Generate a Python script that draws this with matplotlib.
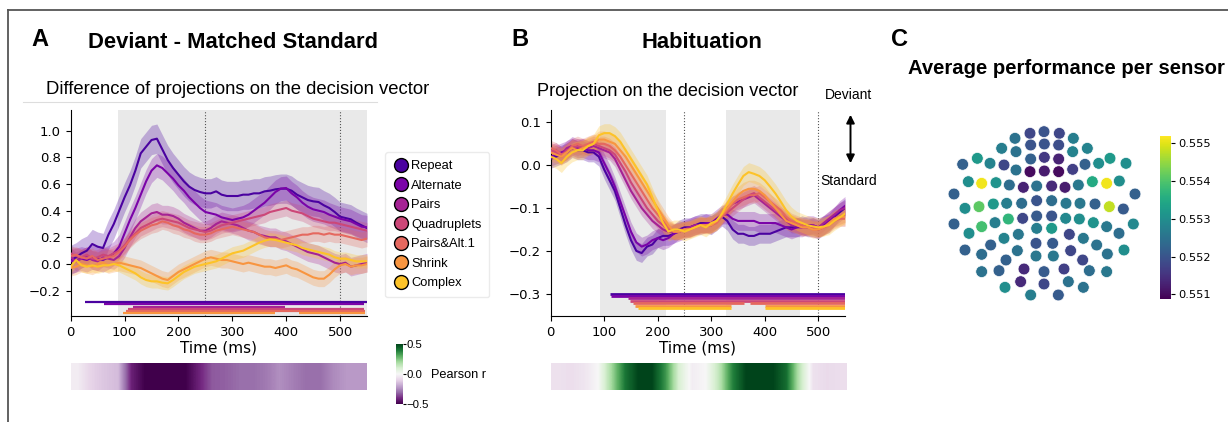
import numpy as np
import matplotlib
matplotlib.use("Agg")
import matplotlib.pyplot as plt
from matplotlib.lines import Line2D
from matplotlib import cm, colors as mcolors

# ---------------- data ----------------
conditions = ["Repeat", "Alternate", "Pairs", "Quadruplets", "Pairs&Alt.1", "Shrink", "Complex"]
cond_colors = ["#4a02a0", "#7a03a8", "#a52294", "#cc4778", "#e5685f", "#f89540", "#fdc328"]

time_ms = np.arange(0, 551, 10)

# Panel A: difference of projections (deviant - matched standard)
A_repeat = [0.03, 0.05, 0.08, 0.10, 0.15, 0.13, 0.12, 0.22, 0.30, 0.40, 0.50, 0.59, 0.70, 0.83, 0.88, 0.93,
            0.94, 0.86, 0.78, 0.72, 0.67, 0.62, 0.58, 0.555, 0.54, 0.53, 0.53, 0.545, 0.52, 0.51, 0.51, 0.51,
            0.52, 0.52, 0.53, 0.53, 0.545, 0.55, 0.56, 0.565, 0.565, 0.55, 0.52, 0.50, 0.48, 0.47, 0.465, 0.44,
            0.42, 0.39, 0.355, 0.345, 0.335, 0.31, 0.29, 0.27]
A_alternate = [0.02, 0.03, 0.04, 0.03, 0.05, 0.04, 0.03, 0.05, 0.08, 0.13, 0.23, 0.33, 0.42, 0.52, 0.62, 0.70,
               0.74, 0.72, 0.68, 0.64, 0.59, 0.55, 0.50, 0.46, 0.42, 0.39, 0.38, 0.37, 0.35, 0.34, 0.33, 0.34,
               0.35, 0.37, 0.40, 0.43, 0.46, 0.50, 0.54, 0.565, 0.57, 0.53, 0.50, 0.46, 0.43, 0.41, 0.40, 0.39,
               0.37, 0.355, 0.34, 0.33, 0.32, 0.30, 0.28, 0.275]
A_pairs = [0.05, 0.02, 0.04, 0.06, 0.03, 0.02, 0.05, 0.04, 0.03, 0.06, 0.12, 0.20, 0.27, 0.32, 0.35, 0.38,
           0.39, 0.37, 0.37, 0.36, 0.34, 0.31, 0.29, 0.27, 0.25, 0.25, 0.27, 0.30, 0.32, 0.31, 0.30, 0.29,
           0.27, 0.25, 0.24, 0.22, 0.21, 0.20, 0.20, 0.18, 0.17, 0.15, 0.13, 0.11, 0.09, 0.08, 0.07, 0.05,
           0.03, 0.01, 0.00, 0.01, -0.02, -0.01, 0.00, 0.01]
A_quadruplets = [0.08, 0.06, 0.05, 0.07, 0.04, 0.05, 0.07, 0.06, 0.08, 0.10, 0.14, 0.19, 0.23, 0.27, 0.29, 0.31,
                 0.33, 0.34, 0.33, 0.32, 0.31, 0.29, 0.27, 0.26, 0.25, 0.24, 0.25, 0.27, 0.29, 0.30, 0.31, 0.32,
                 0.33, 0.34, 0.35, 0.36, 0.37, 0.39, 0.40, 0.41, 0.42, 0.40, 0.39, 0.38, 0.36, 0.34, 0.33, 0.32,
                 0.31, 0.31, 0.30, 0.29, 0.28, 0.27, 0.26, 0.25]
A_pairs_alt = [0.06, 0.07, 0.05, 0.04, 0.06, 0.03, 0.04, 0.05, 0.06, 0.09, 0.13, 0.18, 0.22, 0.25, 0.27, 0.29,
               0.30, 0.32, 0.31, 0.29, 0.28, 0.26, 0.25, 0.23, 0.22, 0.22, 0.23, 0.25, 0.26, 0.27, 0.28, 0.27,
               0.26, 0.25, 0.24, 0.22, 0.20, 0.19, 0.19, 0.18, 0.19, 0.20, 0.21, 0.22, 0.22, 0.23, 0.23, 0.22,
               0.23, 0.22, 0.22, 0.21, 0.20, 0.19, 0.18, 0.19]
A_shrink = [-0.03, -0.02, 0.00, -0.01, -0.02, 0.00, 0.01, -0.01, 0.00, 0.01, 0.00, -0.01, -0.02, -0.03, -0.05, -0.07,
            -0.09, -0.11, -0.12, -0.09, -0.06, -0.04, -0.02, 0.00, 0.02, 0.04, 0.05, 0.04, 0.03, 0.03, 0.02, 0.01,
            0.00, 0.01, 0.00, -0.01, -0.02, -0.02, -0.03, -0.02, -0.01, -0.03, -0.04, -0.06, -0.08, -0.10, -0.11, -0.11,
            -0.08, -0.04, -0.01, 0.00, -0.02, -0.01, -0.01, 0.00]
A_complex = [-0.02, 0.03, -0.01, -0.02, -0.01, -0.02, -0.01, -0.01, 0.00, -0.01, -0.03, -0.05, -0.07, -0.10, -0.12, -0.13,
             -0.13, -0.14, -0.145, -0.12, -0.09, -0.06, -0.04, -0.02, -0.01, 0.00, 0.01, 0.02, 0.04, 0.06, 0.08, 0.09,
             0.10, 0.12, 0.14, 0.16, 0.175, 0.185, 0.18, 0.17, 0.16, 0.15, 0.14, 0.12, 0.11, 0.10, 0.09, 0.08,
             0.07, 0.05, 0.04, 0.04, 0.03, 0.02, 0.02, 0.02]
A_sem = [0.11, 0.09, 0.07, 0.06, 0.06, 0.06, 0.05]

# Panel B: projection on the decision vector (habituation)
B_repeat = [0.015, 0.02, 0.025, 0.03, 0.04, 0.035, 0.035, 0.03, 0.03, 0.02, -0.01, -0.035, -0.06, -0.10, -0.14, -0.175,
            -0.20, -0.205, -0.19, -0.185, -0.17, -0.165, -0.165, -0.16, -0.15, -0.145, -0.145, -0.14, -0.135, -0.135, -0.14, -0.13,
            -0.12, -0.13, -0.15, -0.16, -0.16, -0.165, -0.165, -0.16, -0.16, -0.16, -0.155, -0.15, -0.145, -0.145, -0.145, -0.14,
            -0.145, -0.145, -0.15, -0.14, -0.135, -0.12, -0.11, -0.10]
B_alternate = [0.02, 0.025, 0.03, 0.035, 0.045, 0.04, 0.04, 0.035, 0.035, 0.03, 0.005, -0.02, -0.05, -0.085, -0.12, -0.155,
               -0.18, -0.19, -0.185, -0.175, -0.17, -0.175, -0.17, -0.16, -0.155, -0.15, -0.145, -0.14, -0.14, -0.135, -0.135, -0.125,
               -0.115, -0.115, -0.125, -0.13, -0.13, -0.13, -0.13, -0.135, -0.135, -0.135, -0.135, -0.14, -0.145, -0.15, -0.145, -0.145,
               -0.14, -0.14, -0.145, -0.14, -0.13, -0.12, -0.105, -0.095]
B_pairs = [0.03, 0.035, 0.025, 0.04, 0.045, 0.04, 0.045, 0.04, 0.045, 0.04, 0.035, 0.03, 0.015, -0.01, -0.035, -0.06,
           -0.08, -0.10, -0.115, -0.13, -0.14, -0.15, -0.155, -0.155, -0.15, -0.15, -0.145, -0.14, -0.14, -0.14, -0.135, -0.13,
           -0.115, -0.10, -0.09, -0.085, -0.08, -0.075, -0.07, -0.08, -0.09, -0.10, -0.11, -0.12, -0.13, -0.14, -0.14, -0.145,
           -0.145, -0.14, -0.145, -0.135, -0.125, -0.115, -0.105, -0.10]
B_quadruplets = [0.035, 0.03, 0.02, 0.035, 0.04, 0.045, 0.04, 0.045, 0.05, 0.045, 0.04, 0.035, 0.025, 0.005, -0.015, -0.04,
                 -0.06, -0.08, -0.10, -0.115, -0.13, -0.14, -0.15, -0.155, -0.155, -0.15, -0.15, -0.145, -0.14, -0.14, -0.14, -0.13,
                 -0.12, -0.11, -0.10, -0.09, -0.08, -0.07, -0.065, -0.075, -0.085, -0.095, -0.105, -0.115, -0.125, -0.135, -0.14, -0.145,
                 -0.145, -0.145, -0.15, -0.145, -0.135, -0.125, -0.12, -0.115]
B_pairs_alt = [0.04, 0.035, 0.025, 0.03, 0.045, 0.05, 0.045, 0.05, 0.055, 0.05, 0.05, 0.045, 0.035, 0.02, 0.00, -0.02,
               -0.04, -0.06, -0.08, -0.10, -0.115, -0.13, -0.145, -0.155, -0.155, -0.15, -0.15, -0.145, -0.14, -0.14, -0.14, -0.135,
               -0.12, -0.105, -0.09, -0.08, -0.075, -0.07, -0.07, -0.065, -0.075, -0.085, -0.095, -0.105, -0.12, -0.13, -0.135, -0.14,
               -0.145, -0.15, -0.15, -0.145, -0.14, -0.13, -0.125, -0.125]
B_shrink = [0.03, 0.025, 0.02, 0.03, 0.04, 0.035, 0.04, 0.045, 0.05, 0.06, 0.06, 0.055, 0.05, 0.035, 0.02, 0.00,
            -0.02, -0.04, -0.06, -0.08, -0.10, -0.12, -0.14, -0.155, -0.155, -0.15, -0.15, -0.145, -0.14, -0.14, -0.14, -0.13,
            -0.115, -0.10, -0.085, -0.07, -0.06, -0.055, -0.055, -0.06, -0.07, -0.085, -0.10, -0.115, -0.13, -0.135, -0.14, -0.145,
            -0.145, -0.15, -0.15, -0.145, -0.135, -0.125, -0.12, -0.12]
B_complex = [0.02, 0.015, 0.005, 0.02, 0.03, 0.035, 0.035, 0.045, 0.05, 0.07, 0.075, 0.075, 0.068, 0.055, 0.035, 0.015,
             -0.005, -0.025, -0.045, -0.075, -0.105, -0.135, -0.155, -0.15, -0.15, -0.155, -0.15, -0.145, -0.14, -0.145, -0.135, -0.13,
             -0.113, -0.09, -0.066, -0.045, -0.025, -0.016, -0.02, -0.025, -0.035, -0.05, -0.066, -0.085, -0.105, -0.12, -0.13, -0.135,
             -0.14, -0.143, -0.145, -0.143, -0.14, -0.13, -0.122, -0.113]
B_sem = [0.022, 0.022, 0.018, 0.018, 0.018, 0.02, 0.022]

# significant clusters (ms)
A_clusters = [[(26, 550)], [(62, 545)], [(115, 398)], [(107, 545)], [(102, 547)], [(98, 379), (423, 547)]]
B_clusters = [[(110, 550)], [(112, 550)], [(145, 550)], [(149, 550)], [(153, 362), (372, 550)],
              [(157, 337), (401, 550)], [(163, 337), (401, 550)]]

A_windows = [(88, 550)]
B_windows = [(92, 215), (328, 465)]
event_lines = [250, 500]

# Pearson r over time (25 ms bins, 0-550 ms)
A_pearson = [-0.03, -0.10, -0.13, -0.15, -0.42, -0.50, -0.50, -0.50, -0.50, -0.42, -0.33,
             -0.32, -0.30, -0.30, -0.28, -0.24, -0.27, -0.30, -0.30, -0.25, -0.22, -0.22]
B_pearson = [-0.06, -0.07, -0.05, 0.00, 0.20, 0.40, 0.50, 0.50, 0.35, 0.10, -0.03,
             0.00, 0.15, 0.38, 0.50, 0.50, 0.50, 0.42, 0.15, -0.06, -0.08, -0.07]

# Panel C: sensor layout (2D projected positions) and performance
sensor_x = [390, 432, 478, 345, 520, 392, 433, 476, 305, 562, 348, 518, 232, 392, 433, 476, 630,
            188, 270, 312, 555, 596, 678, 348, 390, 433, 476, 518,
            205, 245, 288, 328, 370, 410, 455, 495, 535, 577, 620, 658, 162, 705,
            410, 455, 365, 320, 280, 237, 195, 498, 540, 585, 628, 670,
            162, 207, 245, 285, 325, 368, 410, 455, 497, 538, 580, 620, 700, 657,
            410, 455, 355, 508, 312, 550, 408, 458, 272, 590, 195, 352, 512, 672,
            245, 408, 460, 622, 318, 548, 245, 297, 372, 432, 492, 568, 620,
            362, 432, 505, 315, 550, 392, 475]
sensor_y = [100, 95, 100, 115, 115, 135, 132, 135, 145, 145, 155, 155, 175, 177, 172, 177, 175,
            193, 190, 195, 193, 190, 190, 210, 215, 213, 215, 208,
            245, 250, 248, 255, 262, 258, 258, 262, 255, 245, 250, 243, 282, 282,
            302, 302, 310, 310, 312, 320, 325, 310, 310, 312, 320, 327,
            372, 400, 380, 368, 357, 355, 348, 348, 355, 357, 368, 380, 372, 400,
            385, 385, 403, 403, 415, 415, 430, 430, 435, 435, 450, 452, 452, 450,
            463, 468, 468, 462, 480, 480, 515, 512, 507, 515, 507, 512, 515,
            545, 552, 545, 562, 562, 585, 585]
sensor_perf = [0.5518, 0.5520, 0.5518, 0.5525, 0.5527, 0.5520, 0.5520, 0.5519, 0.5527, 0.5528, 0.5525, 0.5528,
               0.5532, 0.5522, 0.5516, 0.5513, 0.5532,
               0.5522, 0.5528, 0.5518, 0.5522, 0.5530, 0.5530, 0.5525, 0.5510, 0.5512, 0.5510, 0.5517,
               0.5530, 0.5551, 0.5531, 0.5524, 0.5513, 0.5525, 0.5514, 0.5512, 0.5526, 0.5535, 0.5551, 0.5530,
               0.5522, 0.5522,
               0.5520, 0.5524, 0.5524, 0.5527, 0.5532, 0.5541, 0.5530, 0.5526, 0.5526, 0.5522, 0.5548, 0.5521,
               0.5522, 0.5530, 0.5539, 0.5527, 0.5537, 0.5518, 0.5521, 0.5520, 0.5529, 0.5530, 0.5531, 0.5526,
               0.5529, 0.5524,
               0.5527, 0.5532, 0.5526, 0.5518, 0.5528, 0.5526, 0.5520, 0.5521, 0.5522, 0.5525, 0.5522, 0.5525,
               0.5518, 0.5530,
               0.5524, 0.5526, 0.5526, 0.5525, 0.5522, 0.5518, 0.5525, 0.5522, 0.5514, 0.5521, 0.5517, 0.5524,
               0.5526,
               0.5514, 0.5518, 0.5525, 0.5530, 0.5525, 0.5527, 0.5521]
perf_ticks = [0.551, 0.552, 0.553, 0.554, 0.555]

# ---------------- figure ----------------
W, H = 1228, 422
fig = plt.figure(figsize=(W / 100, H / 100), dpi=100)
TITLE_FONT = ["Liberation Sans", "DejaVu Sans"]


def fx(px):
    return px / W


def fy(py):
    return 1 - py / H


def rect(x0, y0, x1, y1):
    return [fx(x0), fy(y1), fx(x1) - fx(x0), fy(y0) - fy(y1)]


# frame lines
fig.add_artist(Line2D([fx(8), 1.0], [fy(10), fy(10)], color="#555555", lw=1.3, transform=fig.transFigure))
fig.add_artist(Line2D([fx(8), fx(8)], [fy(10), 0.0], color="#555555", lw=1.3, transform=fig.transFigure))

# titles
fig.text(fx(40), fy(40), "A", fontsize=17, fontweight="bold", family=TITLE_FONT, ha="center", va="center")
fig.text(fx(233), fy(42), "Deviant - Matched Standard", fontsize=15.8, fontweight="bold", family=TITLE_FONT,
         ha="center", va="center")
fig.text(fx(520), fy(40), "B", fontsize=17, fontweight="bold", family=TITLE_FONT, ha="center", va="center")
fig.text(fx(702), fy(42), "Habituation", fontsize=15.8, fontweight="bold", family=TITLE_FONT, ha="center", va="center")
fig.text(fx(900), fy(40), "C", fontsize=17, fontweight="bold", family=TITLE_FONT, ha="center", va="center")
fig.text(fx(1066), fy(68), "Average performance per sensor", fontsize=14.6, fontweight="bold", family=TITLE_FONT,
         ha="center", va="center")
fig.text(fx(238), fy(89), "Difference of projections on the decision vector", fontsize=13.3, family=TITLE_FONT,
         ha="center", va="center")
fig.add_artist(Line2D([fx(23), fx(377)], [fy(101.5), fy(101.5)], color="#dddddd", lw=0.8, transform=fig.transFigure))
fig.text(fx(668), fy(92), "Projection on the decision vector", fontsize=13.1, family=TITLE_FONT,
         ha="center", va="center")


def draw_panel(ax, series, sems, windows, clusters, y0, ystep, lw_bar):
    for (a, b) in windows:
        ax.axvspan(a, b, color="#e9e9e9", zorder=0, lw=0)
    for t in event_lines:
        ax.axvline(t, color="#555555", ls=":", lw=0.8, zorder=1)
    for vals, sem, col in zip(series, sems, cond_colors):
        v = np.array(vals)
        ax.fill_between(time_ms, v - sem, v + sem, color=col, alpha=0.28, lw=0, zorder=2)
        ax.plot(time_ms, v, color=col, lw=1.5, zorder=3)
    for i, (segs, col) in enumerate(zip(clusters, cond_colors)):
        for (a, b) in segs:
            ax.plot([a, b], [y0 - i * ystep] * 2, color=col, lw=lw_bar, solid_capstyle="butt", zorder=3)
    ax.set_xlim(0, 550)
    ax.set_xticks([0, 100, 200, 300, 400, 500])
    ax.spines["top"].set_visible(False)
    ax.spines["right"].set_visible(False)
    ax.tick_params(labelsize=9.5, length=3.5)
    ax.set_xlabel("Time (ms)", fontsize=11, labelpad=1)


axA = fig.add_axes(rect(70.7, 110, 367, 316))
draw_panel(axA, [A_repeat, A_alternate, A_pairs, A_quadruplets, A_pairs_alt, A_shrink, A_complex],
           A_sem, A_windows, A_clusters, -0.287, 0.0165, 1.6)
axA.set_ylim(-0.39, 1.155)
axA.set_yticks([-0.2, 0.0, 0.2, 0.4, 0.6, 0.8, 1.0])

axB = fig.add_axes(rect(550.7, 110, 845, 316))
draw_panel(axB, [B_repeat, B_alternate, B_pairs, B_quadruplets, B_pairs_alt, B_shrink, B_complex],
           B_sem, B_windows, B_clusters, -0.3, 0.0055, 2.0)
axB.set_ylim(-0.352, 0.129)
axB.set_yticks([-0.3, -0.2, -0.1, 0.0, 0.1])

# legend
handles = [Line2D([], [], marker="o", ls="none", markersize=10, markerfacecolor=c, markeredgecolor="black",
                  markeredgewidth=1.0) for c in cond_colors]
leg = fig.legend(handles, conditions, loc="upper left", bbox_to_anchor=(fx(379), fy(146)),
                 prop={"family": TITLE_FONT, "size": 9.3}, labelspacing=0.58, handletextpad=0.2,
                 handlelength=1.2, borderpad=0.6, frameon=True, fancybox=True)
leg.get_frame().set_edgecolor("#e6e6e6")
leg.get_frame().set_linewidth(1.0)

# Deviant / Standard arrow
fig.text(fx(849), fy(95), "Deviant", fontsize=10, family=TITLE_FONT, ha="center", va="center")
fig.text(fx(849), fy(181), "Standard", fontsize=10, family=TITLE_FONT, ha="center", va="center")
fig.add_artist(matplotlib.patches.FancyArrowPatch((fx(850.5), fy(112)), (fx(850.5), fy(166)),
                                                  transform=fig.transFigure, arrowstyle="<|-|>",
                                                  mutation_scale=12, color="black", lw=1.4))

# Pearson strips
for (x0, x1), vals in [((71, 367), A_pearson), ((550.7, 846), B_pearson)]:
    axs = fig.add_axes(rect(x0, 363, x1, 390))
    axs.imshow(np.array(vals)[None, :], aspect="auto", cmap="PRGn", vmin=-0.5, vmax=0.5,
               interpolation="bilinear", extent=(0, 550, 0, 1))
    axs.axis("off")

cax_r = fig.add_axes(rect(396, 344, 402.5, 404))
cb_r = fig.colorbar(cm.ScalarMappable(norm=mcolors.Normalize(-0.5, 0.5), cmap="PRGn"), cax=cax_r)
cb_r.set_ticks([-0.5, 0.0, 0.5])
cb_r.set_ticklabels(["\u22120.5", "0.0", "0.5"])
cb_r.outline.set_visible(False)
cax_r.tick_params(labelsize=8.2, length=2, pad=1)
for lab in cax_r.get_yticklabels():
    lab.set_family(TITLE_FONT)
fig.text(fx(431), fy(375), "Pearson r", fontsize=9.2, family=TITLE_FONT, ha="left", va="center")

# Panel C sensors
axC = fig.add_axes(rect(940, 120, 1150, 305))
norm_p = mcolors.Normalize(0.55088, 0.55519)
axC.scatter(sensor_x, sensor_y, c=sensor_perf, cmap="viridis", norm=norm_p, s=72,
            edgecolors="white", linewidths=0.5)
axC.set_xlim(120, 750)
axC.set_ylim(615, 60)
axC.axis("off")

caxC = fig.add_axes(rect(1160, 136, 1171, 299))
cbC = fig.colorbar(cm.ScalarMappable(norm=norm_p, cmap="viridis"), cax=caxC)
cbC.set_ticks(perf_ticks)
cbC.set_ticklabels([f"{v:.3f}" for v in perf_ticks])
cbC.outline.set_visible(False)
caxC.tick_params(labelsize=8.2, length=3, pad=2)

fig.savefig("out.png", dpi=100)
